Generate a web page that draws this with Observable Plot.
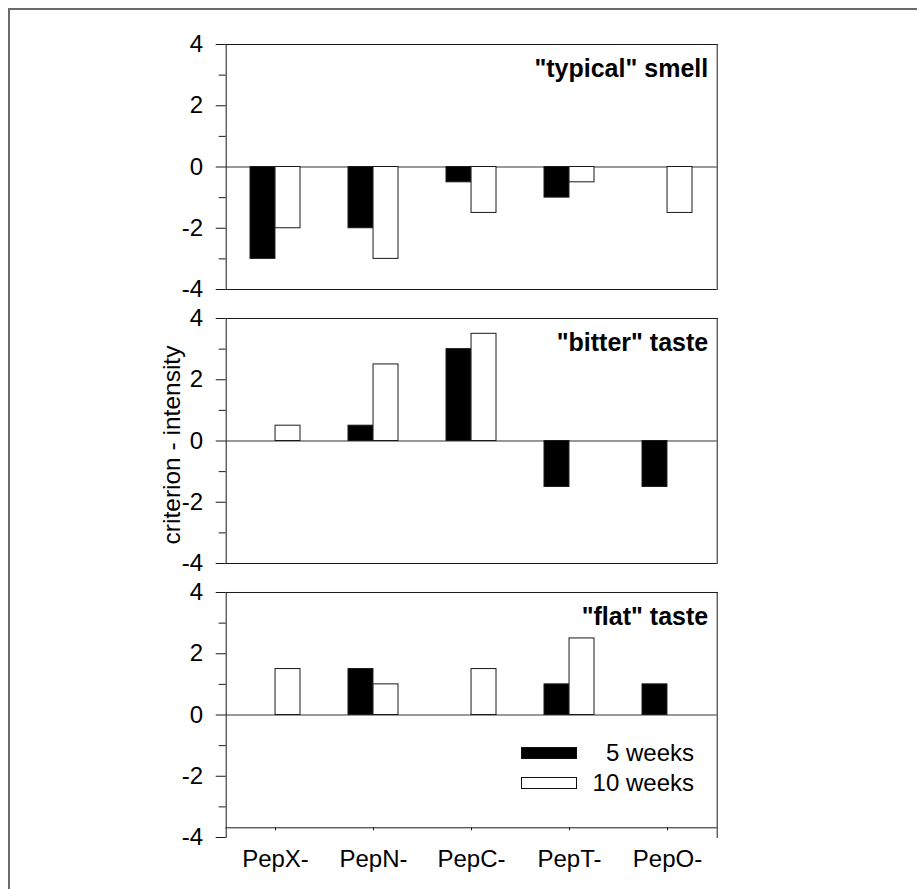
<!DOCTYPE html>
<html>
<head>
<meta charset="utf-8">
<script src="https://cdn.jsdelivr.net/npm/d3@7"></script>
<script src="https://cdn.jsdelivr.net/npm/@observablehq/plot@0.6"></script>
<style>
  body { margin: 0; background: white; font-family: "Liberation Sans", Arial, sans-serif; }
  #wrap { position: relative; width: 917px; height: 889px; }
  #border { position: absolute; left: 8px; top: 8px; width: 909px; height: 881px;
            border-left: 2px solid #6a6a6a; border-top: 2px solid #6a6a6a; box-sizing: border-box; }
  .leg { position: absolute; font-size: 24px; color: #000; white-space: nowrap; }
  .sw { position: absolute; width: 56px; height: 12px; border: 1px solid #111; box-sizing: border-box; }
</style>
</head>
<body>
<div id="wrap"></div>
<script>
const categories = ["PepX-", "PepN-", "PepC-", "PepT-", "PepO-"];
const panels = ['"typical" smell', '"bitter" taste', '"flat" taste'];
const series = ["5 weeks", "10 weeks"];
const yTicks = [-4, -2, 0, 2, 4];
const yMinorTicks = [-3, -1, 1, 3];
const Y_MIN = -4, Y_MAX = 4;

const smell5   = [-3, -2, -0.5, -1, null];
const smell10  = [-2, -3, -1.5, -0.5, -1.5];
const bitter5  = [null, 0.5, 3, -1.5, -1.5];
const bitter10 = [0.5, 2.5, 3.5, null, null];
const flat5    = [null, 1.5, null, 1, 1];
const flat10   = [1.5, 1, 1.5, 2.5, null];

const panelValues = [[smell5, smell10], [bitter5, bitter10], [flat5, flat10]];
const rows = [];
panels.forEach((p, pi) => {
  categories.forEach((c, ci) => {
    series.forEach((s, si) => {
      const v = panelValues[pi][si][ci];
      if (v != null) rows.push({panel: p, cat: c, series: s, value: v});
    });
  });
});
const rows5 = rows.filter(d => d.series === series[0]);
const rows10 = rows.filter(d => d.series === series[1]);

const FONT = 24;
const ink = "#1a1a1a";
const HALF = 25.04; // half of the category band width, in px

const chart = Plot.plot({
  width: 917,
  height: 889,
  marginLeft: 225.7,
  marginRight: 200.3,
  marginTop: 43.7,
  marginBottom: 51.3,
  style: {fontFamily: '"Liberation Sans", Arial, sans-serif', fontSize: FONT + "px", color: "#000", background: "transparent"},
  fy: {domain: panels, paddingInner: 0.1075, paddingOuter: 0, axis: null},
  x: {domain: categories, paddingInner: 0.49, paddingOuter: 0.245, axis: null},
  y: {domain: [Y_MIN, Y_MAX], axis: null},
  marks: [
    Plot.ruleY([0], {stroke: "#333", strokeWidth: 1}),
    Plot.barY(rows5, {x: "cat", fy: "panel", y: "value", fill: "#000", stroke: ink, strokeWidth: 1, insetLeft: 0, insetRight: HALF}),
    Plot.barY(rows10, {x: "cat", fy: "panel", y: "value", fill: "#fff", stroke: ink, strokeWidth: 1, insetLeft: HALF, insetRight: 0}),
    Plot.frame({anchor: "left", stroke: ink}),
    Plot.frame({anchor: "right", stroke: ink}),
    Plot.frame({anchor: "top", stroke: ink}),
    Plot.ruleY(panels.slice(0, 2).map(p => ({panel: p})), {fy: "panel", y: Y_MIN, stroke: ink}),
    Plot.ruleY([{panel: panels[2]}], {fy: "panel", y: Y_MIN, dy: -9.7, stroke: ink}),
    Plot.axisY(yTicks, {tickSize: 10, tickPadding: 13, tickFormat: d => String(d), fontSize: FONT, stroke: ink, label: null}),
    Plot.axisY(yMinorTicks, {tickSize: 7, text: null, stroke: ink, label: null}),
    Plot.axisX({tickSize: 3, tickPadding: 19, dy: -9.7, fontSize: FONT, stroke: ink, label: null}),
    Plot.text(panels, {fy: d => d, text: d => d, frameAnchor: "top-right", lineAnchor: "bottom", textAnchor: "end",
      dx: -9, dy: 32, fontWeight: "bold", fontSize: 25}),
    Plot.text([panels[1]], {fy: d => d, text: () => "criterion - intensity", frameAnchor: "left", rotate: -90,
      textAnchor: "middle", lineAnchor: "middle", dx: -54, dy: 4, fontSize: 24.5})
  ]
});

const wrap = document.getElementById("wrap");
wrap.appendChild(chart);
const border = document.createElement("div");
border.id = "border";
wrap.appendChild(border);

// legend
const legend = [
  {label: series[0], fill: "#000", top: 746.7, textTop: 740},
  {label: series[1], fill: "#fff", top: 777.3, textTop: 770}
];
legend.forEach(l => {
  const sw = document.createElement("div");
  sw.className = "sw";
  sw.style.left = "521px";
  sw.style.top = l.top + "px";
  sw.style.background = l.fill;
  wrap.appendChild(sw);
  const t = document.createElement("div");
  t.className = "leg";
  t.textContent = l.label;
  t.style.right = (917 - 694) + "px";
  t.style.top = l.textTop + "px";
  t.style.lineHeight = "26px";
  wrap.appendChild(t);
});
</script>
</body>
</html>
